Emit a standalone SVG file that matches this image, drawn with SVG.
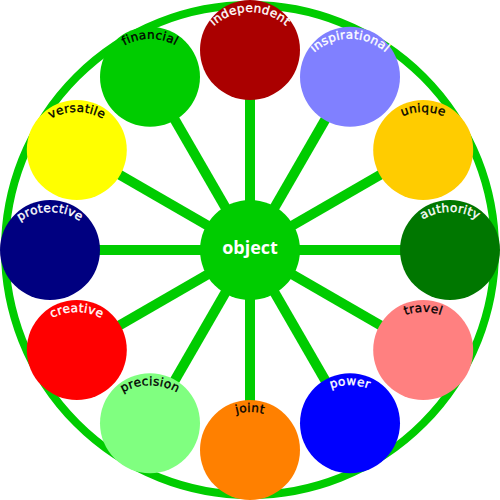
<svg xmlns="http://www.w3.org/2000/svg" xmlns:xlink="http://www.w3.org/1999/xlink" width="500" height="500" viewBox="0 0 500 500">
<style>
.spoke{stroke:#00cc00;stroke-width:10;}
.lbl{font-family:"DejaVu Sans",sans-serif;font-size:12px;letter-spacing:0.3px;stroke-width:0.35px;}
.w{fill:#ffffff;stroke:#ffffff;}
.b{fill:#000000;stroke:#000000;}
</style>
<defs>
<path id="p1" d="M205,37 A53,53 0 0 1 295,37"/>
<path id="p2" d="M305,63.8 A53,53 0 0 1 395,63.8"/>
<path id="p3" d="M378.2,137 A53,53 0 0 1 468.2,137"/>
<path id="p4" d="M405,237 A53,53 0 0 1 495,237"/>
<path id="p5" d="M378.2,337 A53,53 0 0 1 468.2,337"/>
<path id="p6" d="M305,410.2 A53,53 0 0 1 395,410.2"/>
<path id="p7" d="M205,437 A53,53 0 0 1 295,437"/>
<path id="p8" d="M105,410.2 A53,53 0 0 1 195,410.2"/>
<path id="p9" d="M31.8,337 A53,53 0 0 1 121.8,337"/>
<path id="p10" d="M5,237 A53,53 0 0 1 95,237"/>
<path id="p11" d="M31.8,137 A53,53 0 0 1 121.8,137"/>
<path id="p12" d="M105,63.8 A53,53 0 0 1 195,63.8"/>
</defs>
<circle cx="250" cy="250" r="245" fill="none" stroke="#00cc00" stroke-width="8"/>
<g id="connectors">
<line class="spoke" x1="250" y1="250" x2="250" y2="50"/>
<line class="spoke" x1="250" y1="250" x2="350" y2="76.8"/>
<line class="spoke" x1="250" y1="250" x2="423.2" y2="150"/>
<line class="spoke" x1="250" y1="250" x2="450" y2="250"/>
<line class="spoke" x1="250" y1="250" x2="423.2" y2="350"/>
<line class="spoke" x1="250" y1="250" x2="350" y2="423.2"/>
<line class="spoke" x1="250" y1="250" x2="250" y2="450"/>
<line class="spoke" x1="250" y1="250" x2="150" y2="423.2"/>
<line class="spoke" x1="250" y1="250" x2="76.8" y2="350"/>
<line class="spoke" x1="250" y1="250" x2="50" y2="250"/>
<line class="spoke" x1="250" y1="250" x2="76.8" y2="150"/>
<line class="spoke" x1="250" y1="250" x2="150" y2="76.8"/>
</g>
<g id="center">
<circle cx="250" cy="250" r="50" fill="#00cc00"/>
<text x="250" y="254" text-anchor="middle" font-family="'Open Sans',sans-serif" font-weight="bold" font-size="18" fill="#ffffff">object</text>
</g>
<g id="independent"><circle cx="250" cy="50" r="50" fill="#aa0000"/><text class="lbl w"><textPath xlink:href="#p1" href="#p1" startOffset="50%" text-anchor="middle">independent</textPath></text></g>
<g id="inspirational"><circle cx="350" cy="76.8" r="50" fill="#8080ff"/><text class="lbl w"><textPath xlink:href="#p2" href="#p2" startOffset="50%" text-anchor="middle">inspirational</textPath></text></g>
<g id="unique"><circle cx="423.2" cy="150" r="50" fill="#ffcc00"/><text class="lbl b"><textPath xlink:href="#p3" href="#p3" startOffset="50%" text-anchor="middle">unique</textPath></text></g>
<g id="authority"><circle cx="450" cy="250" r="50" fill="#007700"/><text class="lbl w"><textPath xlink:href="#p4" href="#p4" startOffset="50%" text-anchor="middle">authority</textPath></text></g>
<g id="travel"><circle cx="423.2" cy="350" r="50" fill="#ff8080"/><text class="lbl b"><textPath xlink:href="#p5" href="#p5" startOffset="50%" text-anchor="middle">travel</textPath></text></g>
<g id="power"><circle cx="350" cy="423.2" r="50" fill="#0000ff"/><text class="lbl w"><textPath xlink:href="#p6" href="#p6" startOffset="50%" text-anchor="middle">power</textPath></text></g>
<g id="joint"><circle cx="250" cy="450" r="50" fill="#ff8000"/><text class="lbl b"><textPath xlink:href="#p7" href="#p7" startOffset="50%" text-anchor="middle">joint</textPath></text></g>
<g id="precision"><circle cx="150" cy="423.2" r="50" fill="#80ff80"/><text class="lbl b"><textPath xlink:href="#p8" href="#p8" startOffset="50%" text-anchor="middle">precision</textPath></text></g>
<g id="creative"><circle cx="76.8" cy="350" r="50" fill="#ff0000"/><text class="lbl w"><textPath xlink:href="#p9" href="#p9" startOffset="50%" text-anchor="middle">creative</textPath></text></g>
<g id="protective"><circle cx="50" cy="250" r="50" fill="#000080"/><text class="lbl w"><textPath xlink:href="#p10" href="#p10" startOffset="50%" text-anchor="middle">protective</textPath></text></g>
<g id="versatile"><circle cx="76.8" cy="150" r="50" fill="#ffff00"/><text class="lbl b"><textPath xlink:href="#p11" href="#p11" startOffset="50%" text-anchor="middle">versatile</textPath></text></g>
<g id="financial"><circle cx="150" cy="76.8" r="50" fill="#00cc00"/><text class="lbl b"><textPath xlink:href="#p12" href="#p12" startOffset="50%" text-anchor="middle">financial</textPath></text></g>
</svg>
